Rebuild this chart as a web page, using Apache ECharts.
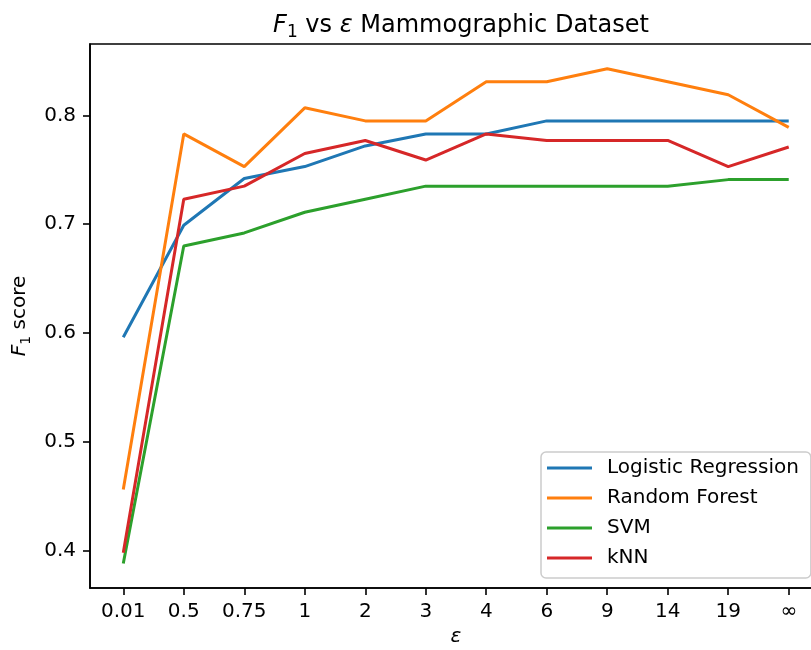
<!DOCTYPE html>
<html>
<head>
<meta charset="utf-8">
<script src="https://cdn.jsdelivr.net/npm/echarts@6/dist/echarts.min.js"></script>
<style>html,body{margin:0;padding:0;background:#fff}#c{width:811px;height:650px}</style>
</head>
<body>
<div id="c"></div>
<script>
const categories = ['0.01','0.5','0.75','1','2','3','4','6','9','14','19','∞'];
const logisticRegression = [0.596, 0.699, 0.742, 0.753, 0.772, 0.783, 0.783, 0.795, 0.795, 0.795, 0.795, 0.795];
const randomForest = [0.456, 0.783, 0.753, 0.807, 0.795, 0.795, 0.831, 0.831, 0.843, 0.831, 0.819, 0.789];
const svm = [0.388, 0.680, 0.692, 0.711, 0.723, 0.735, 0.735, 0.735, 0.735, 0.735, 0.741, 0.741];
const knn = [0.398, 0.723, 0.735, 0.765, 0.777, 0.759, 0.783, 0.777, 0.777, 0.777, 0.753, 0.771];
const seriesNames = ['Logistic Regression','Random Forest','SVM','kNN'];
const yTicks = [0.4, 0.5, 0.6, 0.7, 0.8];

const FONT = 'DejaVu Sans';
const colors = ['#1f77b4','#ff7f0e','#2ca02c','#d62728'];
const allSeries = [logisticRegression, randomForest, svm, knn];
const xIdx = categories.map((_, i) => i);

const chart = echarts.init(document.getElementById('c'), null, {renderer: 'canvas'});
chart.setOption({
  animation: false,
  backgroundColor: '#ffffff',
  color: colors,
  title: {
    text: '{i|F}{s|1}{n| vs }{i|ε}{n| Mammographic Dataset}',
    left: 456,
    top: 6,
    textAlign: 'center',
    textStyle: {
      fontWeight: 'normal',
      rich: {
        i: {fontFamily: FONT, fontSize: 24, fontStyle: 'italic', fontWeight: 'normal', color: '#000', lineHeight: 30},
        s: {fontFamily: FONT, fontSize: 17, fontWeight: 'normal', color: '#000', lineHeight: 30, verticalAlign: 'bottom', padding: [10, 0, 0, 0]},
        n: {fontFamily: FONT, fontSize: 24, fontWeight: 'normal', color: '#000', lineHeight: 30}
      }
    }
  },
  grid: {left: 90, top: 44, right: -11, bottom: 62, outerBoundsMode: 'none', containLabel: false, show: true, borderColor: '#000', borderWidth: 1.6, backgroundColor: 'transparent'},
  legend: {
    orient: 'vertical',
    left: 541,
    top: 452,
    padding: [6, 12, 10, 6],
    itemGap: 10,
    itemWidth: 45,
    itemHeight: 3,
    icon: 'rect',
    backgroundColor: '#ffffff',
    borderColor: '#cccccc',
    borderWidth: 1.5,
    borderRadius: 5,
    data: seriesNames,
    textStyle: {fontFamily: FONT, fontSize: 20, color: '#000', padding: [0, 0, 0, 10], lineHeight: 20}
  },
  xAxis: {
    type: 'value',
    min: -0.55,
    max: 11.55,
    name: 'ε',
    nameLocation: 'middle',
    nameGap: 34,
    nameTextStyle: {fontFamily: FONT, fontSize: 20, fontStyle: 'italic', color: '#000'},
    axisLine: {show: true, onZero: false, lineStyle: {color: '#000', width: 1.6}},
    axisTick: {show: true, length: 7, lineStyle: {color: '#000', width: 1.6}, customValues: xIdx},
    axisLabel: {
      margin: 14, fontFamily: FONT, fontSize: 20, color: '#000',
      customValues: xIdx,
      formatter: v => categories[Math.round(v)]
    },
    splitLine: {show: false}
  },
  yAxis: {
    type: 'value',
    min: 0.3655,
    max: 0.8657,
    name: '{i|F}{s|1}{n| score}',
    nameLocation: 'middle',
    nameRotate: 90,
    nameGap: 41,
    nameTextStyle: {
      rich: {
        i: {fontFamily: FONT, fontSize: 20, fontStyle: 'italic', color: '#000', lineHeight: 26},
        s: {fontFamily: FONT, fontSize: 14, color: '#000', lineHeight: 26, verticalAlign: 'bottom', padding: [8, 0, 0, 0]},
        n: {fontFamily: FONT, fontSize: 20, color: '#000', lineHeight: 26}
      }
    },
    axisLine: {show: true, onZero: false, lineStyle: {color: '#000', width: 1.6}},
    axisTick: {show: true, length: 7, lineStyle: {color: '#000', width: 1.6}, customValues: yTicks},
    axisLabel: {
      margin: 14, fontFamily: FONT, fontSize: 20, color: '#000',
      customValues: yTicks,
      formatter: v => v.toFixed(1)
    },
    splitLine: {show: false}
  },
  series: seriesNames.map((name, k) => ({
    name: name,
    type: 'line',
    symbol: 'none',
    data: allSeries[k].map((v, i) => [i, v]),
    lineStyle: {width: 3, color: colors[k]},
    itemStyle: {color: colors[k]}
  }))
});
</script>
</body>
</html>
